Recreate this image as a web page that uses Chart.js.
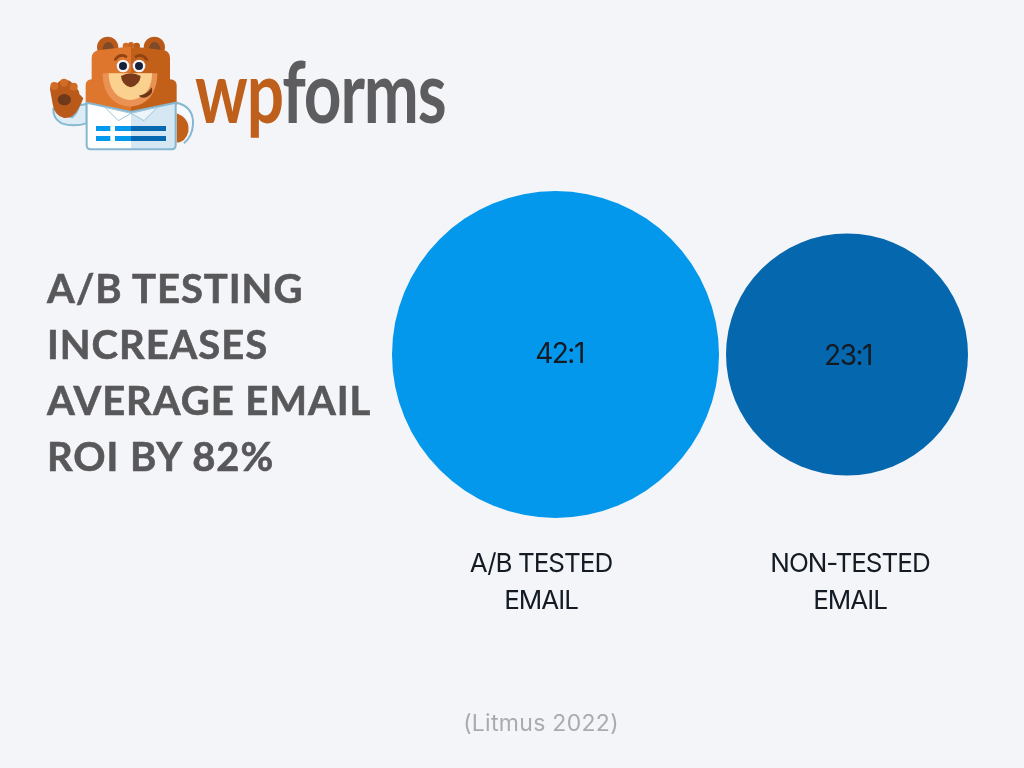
<!DOCTYPE html>
<html>
<head>
<meta charset="utf-8">
<title>A/B testing email ROI</title>
<script src="https://cdn.jsdelivr.net/npm/chart.js@4"></script>
<style>
html, body { margin: 0; padding: 0; background: #f4f5f8; }
#wrap { position: relative; width: 1024px; height: 768px; overflow: hidden; }
#bubbleChart { position: absolute; left: 0; top: 0; }
#bear { position: absolute; left: 40px; top: 30px; }
#brand { position: absolute; left: 195px; top: 35px; font: 700 86px/110px Lato, sans-serif; letter-spacing: -1.5px; white-space: nowrap; transform: scaleX(0.765); transform-origin: left top; }
#brand .wp { color: #bf5f1c; }
#brand .forms { color: #5d5d5f; }
#headline { position: absolute; left: 47px; top: 260px; font: 700 40px/56px Lato, sans-serif; letter-spacing: 0.95px; -webkit-text-stroke: 0.6px #58585b; color: #58585b; white-space: nowrap; }
#source { position: absolute; left: 341px; width: 400px; top: 708px; text-align: center; font: 400 23px/30px Inter, sans-serif; letter-spacing: 0.3px; color: #a9abae; }
</style>
</head>
<body>
<div id="wrap">
  <canvas id="bubbleChart" width="1024" height="768"></canvas>

  <svg id="bear" width="160" height="125" viewBox="0 0 480 375">
    <!-- ears -->
    <circle cx="203" cy="52" r="32" fill="#b9591a"/>
    <circle cx="343" cy="52" r="32" fill="#b9591a"/>
    <path d="M186 64 Q190 36 205 36 Q220 36 224 64Z" fill="#7f4a28"/>
    <path d="M325 64 Q329 36 344 36 Q359 36 363 64Z" fill="#7f4a28"/>
    <!-- tuft on top of the head -->
    <circle cx="258" cy="48" r="10" fill="#d06c26"/>
    <circle cx="290" cy="48" r="10" fill="#b9591a"/>
    <circle cx="273" cy="45" r="9" fill="#c96520"/>
    <!-- head and body -->
    <path d="M273 52 L273 250 L137 225 L137 165 Q137 150 155 148 L155 85 Q155 62 180 60 L250 52Z" fill="#df762d"/>
    <path d="M273 52 L296 52 L368 60 Q390 62 390 85 L390 148 Q410 150 410 165 L410 225 L273 250Z" fill="#c2601a"/>
    <!-- muzzle -->
    <path d="M188 130 L352 130 C352 190 320 228 270 230 C220 228 188 190 188 130Z" fill="#ea9254"/>
    <path d="M206 130 L336 130 C336 178 310 208 270 210 C232 208 206 178 206 130Z" fill="#fbd190"/>
    <!-- brows -->
    <path d="M226 88 Q240 70 258 80" fill="none" stroke="#8d4312" stroke-width="8" stroke-linecap="round"/>
    <path d="M288 80 Q306 70 320 88" fill="none" stroke="#8d4312" stroke-width="8" stroke-linecap="round"/>
    <!-- eyes -->
    <circle cx="249" cy="108" r="19" fill="#f3f5f8"/>
    <circle cx="297" cy="108" r="19" fill="#f3f5f8"/>
    <circle cx="249" cy="108" r="12" fill="#17223a"/>
    <circle cx="297" cy="108" r="12" fill="#17223a"/>
    <!-- nose and smile -->
    <path d="M243 138 Q272 122 302 138 Q300 165 272 172 Q245 165 243 138Z" fill="#7b3b1a"/>
    <path d="M296 197 Q320 195 335 172 Q342 190 322 200 Q306 208 296 197Z" fill="#6d3716"/>
    <!-- right hand -->
    <path d="M410 250 Q450 265 445 305 Q438 335 410 338Z" fill="#c2601a"/>
    <!-- sleeves -->
    <path d="M410 218 Q462 230 459 285 Q456 320 432 340" fill="none" stroke="#86b7d0" stroke-width="6"/>
    <path d="M410 232 Q446 242 448 272" fill="none" stroke="#f7fafc" stroke-width="14"/>
    <path d="M140 222 L118 226 Q112 250 96 262 L40 236 Q38 265 65 280 Q100 292 140 280Z" fill="#dcebf4" stroke="#86b7d0" stroke-width="6" stroke-linejoin="round"/>
    <!-- waving paw -->
    <path d="M30 178 Q30 158 52 160 Q62 146 80 150 Q98 152 100 170 Q118 176 118 192 L130 205 Q124 222 114 238 Q100 266 72 264 Q42 256 38 222Z" fill="#b9591a"/>
    <ellipse cx="73" cy="209" rx="20" ry="17" fill="#6f3a1c"/>
    <circle cx="43" cy="168" r="12" fill="#d06c26"/>
    <circle cx="72" cy="158" r="12" fill="#d06c26"/>
    <circle cx="101" cy="170" r="12" fill="#d06c26"/>
    <!-- shirt -->
    <path d="M140 218 L273 246 L273 358 L152 358 Q140 358 140 346Z" fill="#ffffff"/>
    <path d="M407 218 L273 246 L273 358 L395 358 Q407 358 407 346Z" fill="#d5e7f3"/>
    <path d="M140 218 L273 246 L407 218 L407 346 Q407 358 395 358 L152 358 Q140 358 140 346Z" fill="none" stroke="#86b7d0" stroke-width="6" stroke-linejoin="round"/>
    <!-- collar -->
    <path d="M195 232 L273 250 L235 272Z" fill="#ffffff" stroke="#9cc4da" stroke-width="3"/>
    <path d="M352 232 L273 250 L312 272Z" fill="#eef5fa" stroke="#9cc4da" stroke-width="3"/>
    <!-- pocket lines -->
    <rect x="168" y="288" width="43" height="15" fill="#0399ed"/>
    <rect x="225" y="288" width="48" height="15" fill="#0399ed"/>
    <rect x="273" y="288" width="105" height="15" fill="#0568b0"/>
    <rect x="168" y="318" width="43" height="15" fill="#0399ed"/>
    <rect x="225" y="318" width="48" height="15" fill="#0399ed"/>
    <rect x="273" y="318" width="105" height="15" fill="#0568b0"/>
  </svg>

  <div id="brand"><span class="wp">wp</span><span class="forms">forms</span></div>

  <div id="headline">A/B TESTING<br>INCREASES<br>AVERAGE EMAIL<br>ROI BY 82%</div>

  <div id="source">(Litmus 2022)</div>
</div>

<script>
// chart data
const categories = [['A/B TESTED', 'EMAIL'], ['NON-TESTED', 'EMAIL']];
const roiValues = [42, 23];
const roiLabels = ['42:1', '23:1'];
const bubbleColors = ['#0398ec', '#0568ae'];

// bubble area goes with the value, so radius = k * sqrt(value)
const radiusPerRoot = 25.23;

// text does not sit exactly on the bubble centres in the reference
const valueLabelShift = [{ x: 4, y: 0 }, { x: 1, y: 2 }];
const categoryCenterX = [541, 850];
const categoryLineY = [564, 601];

const ctx = document.getElementById('bubbleChart');

// value labels inside the bubbles + category names under them
const bubbleText = {
    id: 'bubbleText',
    afterDatasetsDraw: function (chart) {
        const c = chart.ctx;
        const points = chart.getDatasetMeta(0).data;
        c.save();
        c.textAlign = 'center';
        c.textBaseline = 'middle';
        c.fillStyle = '#141b24';
        c.font = '400 28px Inter, sans-serif';
        c.letterSpacing = '-1.5px';
        points.forEach(function (pt, i) {
            c.fillText(roiLabels[i], pt.x + valueLabelShift[i].x, pt.y + valueLabelShift[i].y);
        });
        c.font = '400 26px Inter, sans-serif';
        c.letterSpacing = '-1px';
        categories.forEach(function (lines, i) {
            lines.forEach(function (line, j) {
                c.fillText(line, categoryCenterX[i], categoryLineY[j]);
            });
        });
        c.restore();
    }
};

new Chart(ctx, {
    type: 'bubble',
    data: {
        datasets: [
            {
                data: roiValues.map(function (v, i) {
                    return { x: i, y: 0, r: radiusPerRoot * Math.sqrt(v) };
                }),
                backgroundColor: bubbleColors,
                borderWidth: 0,
                hoverBorderWidth: 0,
            }
        ]
    },
    options: {
        responsive: false,
        animation: false,
        layout: { padding: 0, autoPadding: false },
        clip: false,
        scales: {
            // ranges picked so the two bubbles land where they are in the picture
            x: { type: 'linear', display: false, min: -1.9057, max: 1.6072 },
            y: { type: 'linear', display: false, min: -413.5, max: 354.5 }
        },
        plugins: {
            legend: { display: false },
            tooltip: { enabled: false }
        }
    },
    plugins: [bubbleText]
});
</script>
</body>
</html>
